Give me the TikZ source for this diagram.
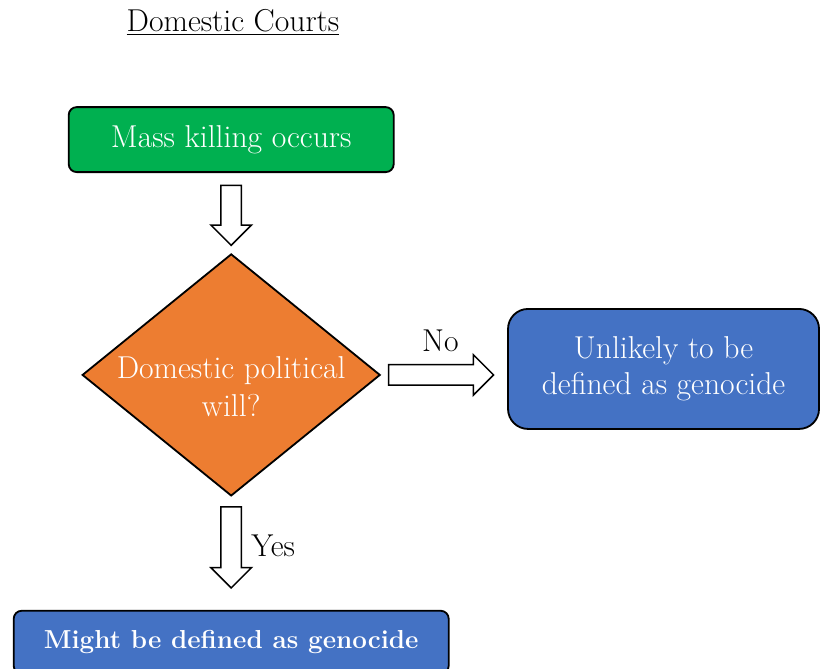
\documentclass[tikz,border=0pt]{standalone}
\usetikzlibrary{shapes.geometric, shapes.arrows, positioning, calc}

\definecolor{boxgreen}{HTML}{00B050}
\definecolor{boxorange}{HTML}{ED7D31}
\definecolor{boxblue}{HTML}{4472C4}

\begin{document}
\begin{tikzpicture}[
	every node/.style={font=\fontsize{22.5}{25.6}\selectfont},
	block/.style={
		rectangle, draw, line width=1.3pt, rounded corners=0.2cm,
		text=white, align=center, inner sep=0pt
	},
	decision/.style={
		diamond, draw, line width=1.3pt, fill=boxorange, text=white,
		font=\fontsize{22.5}{27.6}\selectfont,
		align=center, aspect=1.23, inner sep=-1cm,
		text height=2.1cm, text depth=0cm,
		minimum width=7.45cm, minimum height=6.05cm
	},
	fatarrow/.style={
		single arrow, draw, line width=1.1pt, fill=white,
		minimum height=#1, inner xsep=0pt, inner ysep=0.2375cm,
		single arrow head extend=0.25cm, sloped
	}
	]
	\useasboundingbox (0,0) rectangle (20.525,-16.7);

	% Title
	\node (title) at (5.825,-0.55) {\underline{Domestic Courts}};

	% Nodes
	\node[block, fill=boxgreen, minimum width=8.125cm, minimum height=1.625cm] (kill) at (5.78,-3.49) {Mass killing occurs};
	\node[decision, below=2cm of kill] (will) {Domestic political\\will?};
	\node[block, fill=boxblue, rounded corners=0.5cm, minimum width=7.775cm, minimum height=3cm, right=3.15cm of will, yshift=0.15cm] (unl) {Unlikely to be\\defined as genocide};
	\node[block, fill=boxblue, minimum width=10.875cm, minimum height=1.575cm, below=2.825cm of will] (might) {\fontsize{18.5}{22}\selectfont\bfseries Might be defined as genocide};

	% Block arrows with labels
	\path (kill.south) -- node[fatarrow=1.5cm, pos=.465] (arr1) {} (will.north);
	\path (will.east) -- node[fatarrow=2.625cm, pos=.435] (arr2) {}
		node[pos=.47, yshift=0.85cm] (nolbl) {No} (will.east -| unl.west);
	\path (will.south) -- node[fatarrow=2.025cm, pos=.402] (arr3) {}
		node[pos=.43, anchor=west, xshift=0.38cm] (yeslbl) {Yes} (might.north);

\end{tikzpicture}
\end{document}
